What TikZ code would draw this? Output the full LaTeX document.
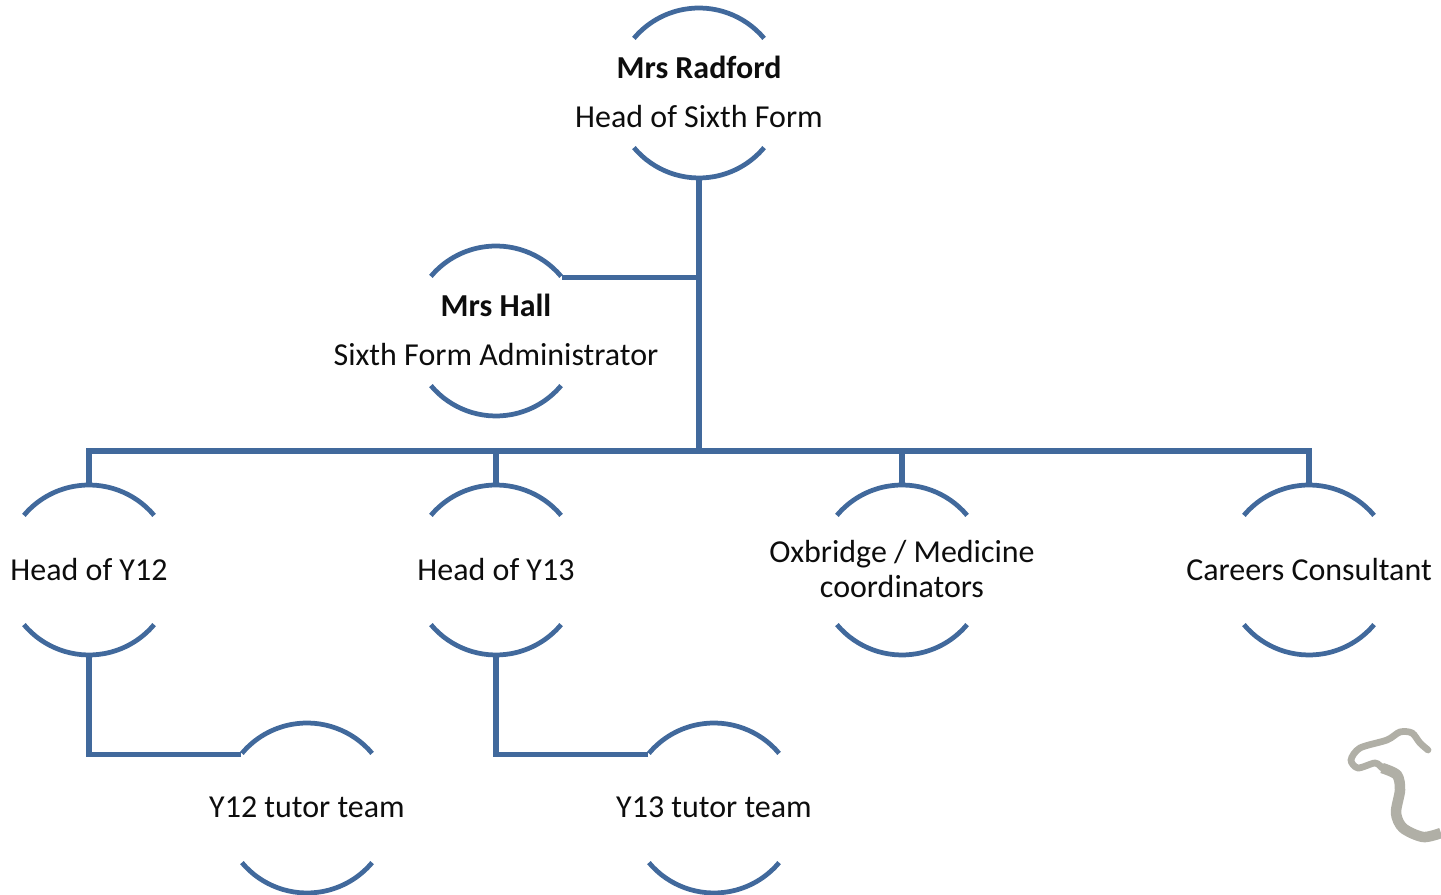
\documentclass[tikz,border=0pt]{standalone}
\usepackage{fontspec}
\setmainfont{Carlito}
\definecolor{rulecol}{HTML}{41699C}
\definecolor{marksgrey}{HTML}{B0AFA6}
\tikzset{
    unit/.style={circle, minimum size=3.4cm, inner sep=0pt, outer sep=0pt},
    unittext/.style={align=center, yshift=0.015cm, font=\fontsize{18.2}{19.8}\selectfont, text=black!95},
    arcrule/.style={draw=rulecol, line width=0.095cm},
    rule/.style={draw=rulecol, line width=0.11cm},
}
\begin{document}
    \begin{tikzpicture}[x=0.02cm, y=0.02cm]
        \useasboundingbox (0, 0) rectangle (1441, 895);

        \node[unit] (radford) at(699, 802){};
        \node[unit] (hall) at(496, 564){};
        \node[unit] (heada) at(89, 325){};
        \node[unit] (headb) at(496, 325){};
        \node[unit] (oxbridge) at(902, 325){};
        \node[unit] (careers) at(1309, 325){};
        \node[unit] (tutora) at(307, 87){};
        \node[unit] (tutorb) at(714, 87){};
        \coordinate (bus) at(699, 444);

        \foreach \u in {radford, hall, heada, headb, oxbridge, careers, tutora, tutorb}{
            \draw[arcrule] (\u.40) arc (40:140:1.7cm);
            \draw[arcrule] (\u.-140) arc (-140:-40:1.7cm);
        }

        \draw[rule] (radford.south) -- (bus);
        \draw[rule] (hall.39) -- (hall.39 -| bus);
        \draw[rule] (heada.north) |- (bus);
        \draw[rule] (headb.north) |- (bus);
        \draw[rule] (oxbridge.north) |- (bus);
        \draw[rule] (careers.north) |- (bus);
        \draw[rule] (heada.south) |- (tutora.141);
        \draw[rule] (headb.south) |- (tutorb.141);

        \node[unittext] (radfordtext) at(radford){\textbf{Mrs Radford}\\[0.28cm]Head of Sixth Form};
        \node[unittext] (halltext) at(hall){\textbf{Mrs Hall}\\[0.28cm]Sixth Form Administrator};
        \node[unittext] (headatext) at(heada){Head of Y12};
        \node[unittext] (headbtext) at(headb){Head of Y13};
        \node[unittext] (oxbridgetext) at(oxbridge){Oxbridge / Medicine\\coordinators};
        \node[unittext] (careerstext) at(careers){Careers Consultant};
        \node[unittext] (tutoratext) at(tutora){Y12 tutor team};
        \node[unittext] (tutorbtext) at(tutorb){Y13 tutor team};

        \draw[marksgrey, line width=0.135cm, line cap=round] plot[smooth] coordinates {(1428, 145) (1420, 152) (1412, 162) (1400, 163) (1387, 155) (1360, 147) (1351, 135) (1358, 127) (1375, 132) (1382, 127)};
        \draw[marksgrey, line width=0.21cm] plot[smooth] coordinates {(1382, 127) (1397, 120) (1400, 105) (1396, 82) (1403, 67) (1423, 58) (1441, 62)};
    \end{tikzpicture}
\end{document}
